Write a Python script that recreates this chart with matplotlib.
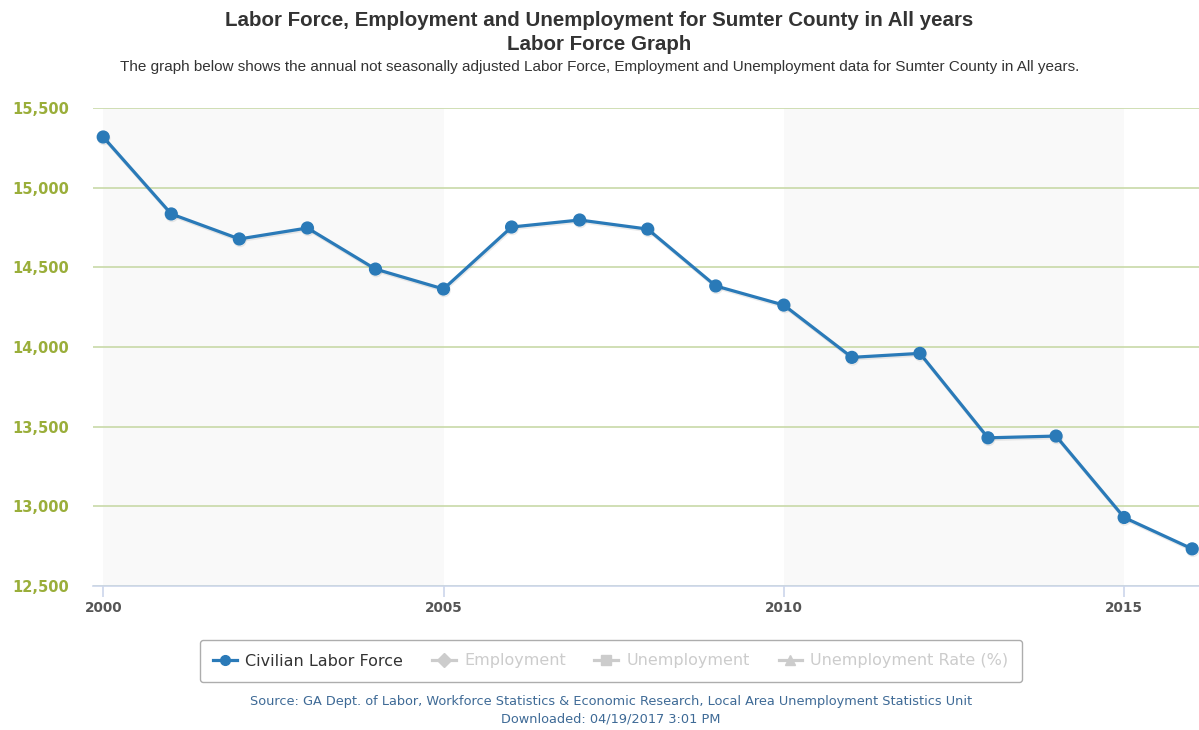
import matplotlib
matplotlib.use('Agg')
import matplotlib.pyplot as plt
from matplotlib.lines import Line2D
import matplotlib.patheffects as pe

# annual labor force data
years = [2000, 2001, 2002, 2003, 2004, 2005, 2006, 2007, 2008,
         2009, 2010, 2011, 2012, 2013, 2014, 2015, 2016]
labor_force = [15318, 14835, 14678, 14747, 14489, 14364, 14753, 14797, 14740,
               14383, 14263, 13935, 13960, 13430, 13441, 12930, 12733]

y_ticks = [12500, 13000, 13500, 14000, 14500, 15000, 15500]
x_ticks = [2000, 2005, 2010, 2015]
bands = [(2000, 2005), (2010, 2015)]

legend_names = ['Civilian Labor Force', 'Employment', 'Unemployment', 'Unemployment Rate (%)']
legend_markers = ['o', 'D', 's', '^']

title = 'Labor Force, Employment and Unemployment for Sumter County in All years'
subtitle = 'Labor Force Graph'
desc = ('The graph below shows the annual not seasonally adjusted Labor Force, '
        'Employment and Unemployment data for Sumter County in All years.')
source1 = ('Source: GA Dept. of Labor, Workforce Statistics & Economic Research, '
           'Local Area Unemployment Statistics Unit')
source2 = 'Downloaded: 04/19/2017 3:01 PM'

W, H = 1199, 730
line_color = '#2a7ab8'
grid_color = '#c8d9a8'
ylab_color = '#9aae3a'
axis_color = '#ccd6eb'

fig = plt.figure(figsize=(W / 100, H / 100), dpi=100)
ax = fig.add_axes([93 / W, 1 - 586 / H, (W - 93) / W, (586 - 108) / H])

for a, b in bands:
    ax.axvspan(a, b, color='#f9f9f9', zorder=0, lw=0)

ax.plot(years, labor_force, color=line_color, lw=2.3, marker='o', markersize=8.5,
        clip_on=False, zorder=3,
        path_effects=[pe.SimpleLineShadow(offset=(0.5, -1.2), alpha=0.08), pe.Normal()])

ax.set_xlim(1999.85, 2016.1)
ax.set_ylim(12500, 15500)
ax.set_yticks(y_ticks)
ax.set_yticklabels([f'{v:,}' for v in y_ticks])
ax.set_xticks(x_ticks)
ax.set_xticklabels([str(v) for v in x_ticks])

ax.grid(axis='y', color=grid_color, lw=1.2)
ax.set_axisbelow(True)
for s in ['top', 'right', 'left']:
    ax.spines[s].set_visible(False)
ax.spines['bottom'].set_color(axis_color)
ax.spines['bottom'].set_linewidth(1.2)
ax.spines['bottom'].set_zorder(1)

ax.tick_params(axis='y', length=0, pad=17, labelsize=10.5, labelcolor=ylab_color)
ax.tick_params(axis='x', length=8, width=1.2, color=axis_color, pad=3,
               labelsize=9.8, labelcolor='#555555')
for lab in ax.get_yticklabels() + ax.get_xticklabels():
    lab.set_fontweight('bold')
    lab.set_fontfamily('DejaVu Sans')

# titles
fig.text(0.5, 1 - 20 / H, title, ha='center', va='center', fontsize=14.8,
         fontweight='bold', color='#333333', family='Liberation Sans')
fig.text(0.5, 1 - 45 / H, subtitle, ha='center', va='center', fontsize=14.8,
         fontweight='bold', color='#333333', family='Liberation Sans')
fig.text(0.5, 1 - 67 / H, desc, ha='center', va='center', fontsize=11.0,
         color='#333333', family='Liberation Sans')

# legend
handles = []
for i, (name, m) in enumerate(zip(legend_names, legend_markers)):
    c = line_color if i == 0 else '#cccccc'
    handles.append(Line2D([], [], color=c, marker=m, lw=2.3, markersize=7))
leg = fig.legend(handles=handles, labels=legend_names, loc='center',
                 bbox_to_anchor=(611 / W, 1 - 661 / H), ncol=4,
                 frameon=True, handlelength=1.5, handletextpad=0.5,
                 columnspacing=1.8, borderpad=0.85, fancybox=True,
                 prop={'family': 'DejaVu Sans', 'size': 11.5})
leg.get_frame().set_edgecolor('#999999')
leg.get_frame().set_linewidth(1.0)
for i, t in enumerate(leg.get_texts()):
    t.set_color('#333333' if i == 0 else '#cccccc')

fig.text(611 / W, 1 - 702 / H, source1, ha='center', va='center', fontsize=9.25,
         color='#3e6a96', family='DejaVu Sans')
fig.text(611 / W, 1 - 719 / H, source2, ha='center', va='center', fontsize=9.25,
         color='#3e6a96', family='DejaVu Sans')

fig.savefig('out.png', dpi=100)
